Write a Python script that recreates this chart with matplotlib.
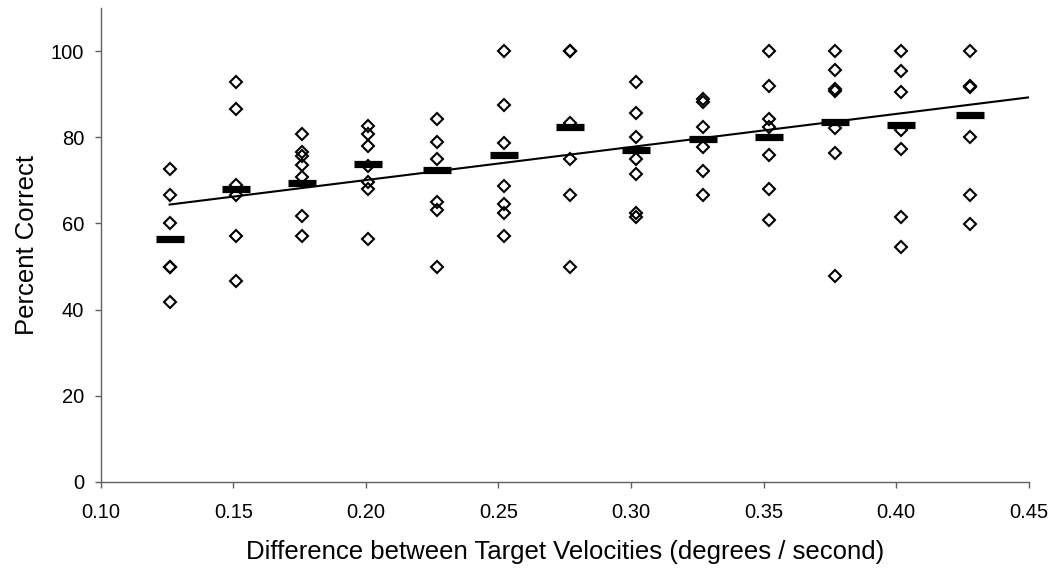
import matplotlib
matplotlib.use("Agg")
import matplotlib.pyplot as plt

plt.rcParams['font.family'] = ['Liberation Sans', 'DejaVu Sans']

# velocity differences (degrees / second), one column of points per value
velocities = [0.126, 0.151, 0.176, 0.201, 0.227, 0.252, 0.277,
              0.302, 0.327, 0.352, 0.377, 0.402, 0.428]

# percent correct for each subject at each velocity difference
scores = [
    [72.7, 66.7, 60.0, 50.0, 50.0, 41.7],
    [92.9, 86.7, 69.0, 66.7, 57.1, 46.7],
    [80.9, 76.6, 75.6, 73.6, 70.8, 61.8, 57.1],
    [82.7, 80.9, 78.0, 73.4, 69.7, 68.1, 56.5],
    [84.2, 79.0, 74.9, 65.0, 63.1, 50.0],
    [100.0, 87.5, 78.6, 68.8, 64.5, 62.5, 57.1],
    [100.0, 100.0, 83.3, 75.0, 66.7, 50.0],
    [92.9, 85.7, 80.0, 75.0, 71.5, 62.5, 61.6],
    [89.0, 88.2, 82.4, 77.7, 72.2, 66.7],
    [100.0, 92.0, 84.2, 82.4, 75.9, 68.0, 60.9],
    [100.0, 95.6, 91.3, 90.8, 82.2, 76.4, 47.8],
    [100.0, 95.4, 90.6, 81.7, 77.3, 61.6, 54.6],
    [100.0, 91.9, 91.6, 80.0, 66.7, 59.9],
]

# group means (horizontal bars)
means = [56.5, 67.9, 69.3, 73.9, 72.5, 75.8, 82.4, 77.0, 79.7, 80.0, 83.5, 82.8, 85.3]

# linear trend line end points
trend_x = [0.126, 0.45]
trend_y = [64.4, 89.3]

fig = plt.figure(figsize=(10.56, 5.73), dpi=100)
ax = fig.add_axes([100.7 / 1056, 1 - 481.7 / 573, 928 / 1056, 473.4 / 573])

for v, s in zip(velocities, scores):
    ax.plot([v] * len(s), s, ls='none', marker='D', ms=6.2, mew=1.5,
            mfc='none', mec='black', zorder=2)

ax.plot(velocities, means, ls='none', marker='_', ms=19.5, mew=5.2,
        color='black', zorder=3)
ax.plot(trend_x, trend_y, color='black', lw=1.5, zorder=4)

ax.set_xlim(0.10, 0.45)
ax.set_ylim(0, 110)
ax.set_xticks([0.10, 0.15, 0.20, 0.25, 0.30, 0.35, 0.40, 0.45])
ax.set_xticklabels(['0.10', '0.15', '0.20', '0.25', '0.30', '0.35', '0.40', '0.45'])
ax.set_yticks([0, 20, 40, 60, 80, 100])

for side in ['top', 'right']:
    ax.spines[side].set_visible(False)
for side in ['left', 'bottom']:
    ax.spines[side].set_color('#606060')
    ax.spines[side].set_linewidth(1.0)
ax.tick_params(axis='both', direction='out', length=4, width=1.0,
               color='#606060', labelsize=14.5)
ax.tick_params(axis='x', pad=11)
ax.tick_params(axis='y', pad=8)

ax.set_xlabel('Difference between Target Velocities (degrees / second)', fontsize=18.5, labelpad=13)
ax.set_ylabel('Percent Correct', fontsize=18.5, labelpad=8.6)

fig.savefig('out.png', dpi=100)
